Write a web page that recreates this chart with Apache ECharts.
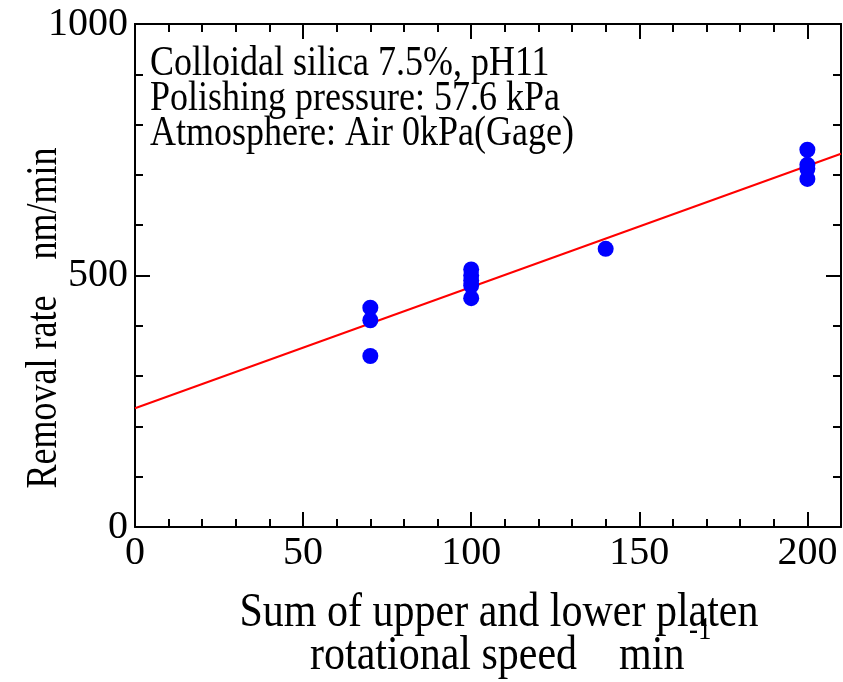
<!DOCTYPE html>
<html>
<head>
<meta charset="utf-8">
<script src="https://cdn.jsdelivr.net/npm/echarts@6/dist/echarts.min.js"></script>
<style>html,body{margin:0;padding:0;background:#fff}#c{width:843px;height:682px}</style>
</head>
<body>
<div id="c"></div>
<script>
// Data
const speed70 = [436, 411, 340];
const speed100 = [512, 500, 490, 480, 455];
const speed140 = [553];
const speed200 = [750, 720, 712, 692];
const speedValues = [70, 100, 140, 200];
const rateGroups = [speed70, speed100, speed140, speed200];
const trendX = [0, 210];
const trendY = [236, 742];
const xTickLabels = [0, 50, 100, 150, 200];
const yTickLabels = [0, 500, 1000];
const noteLines = ['Colloidal silica 7.5%, pH11', 'Polishing pressure: 57.6 kPa', 'Atmosphere: Air 0kPa(Gage)'];

const points = [];
speedValues.forEach((s, i) => rateGroups[i].forEach(v => points.push([s, v])));
const trend = trendX.map((x, i) => [x, trendY[i]]);

const FONT = 'Liberation Serif';
const black = '#000';
function xAx(pos, interval, len, labels) {
  return {
    type: 'value', position: pos, min: 0, max: 210, interval: interval,
    axisLine: { show: labels || pos === 'top', onZero: false, lineStyle: { color: black, width: 2 } },
    axisTick: { show: true, inside: true, length: len, lineStyle: { color: black, width: 2 } },
    axisLabel: labels ? {
      show: true, color: black, fontFamily: FONT, fontSize: 40, margin: 6, showMaxLabel: false,
      formatter: v => xTickLabels.includes(v) ? String(v) : ''
    } : { show: false },
    splitLine: { show: false }
  };
}
function yAx(pos, labels) {
  return {
    type: 'value', position: pos, min: 0, max: 1000, interval: 500,
    axisLine: { show: true, onZero: false, lineStyle: { color: black, width: 2 } },
    axisTick: { show: true, inside: true, length: 15, lineStyle: { color: black, width: 2 } },
    minorTick: { show: true, splitNumber: 5, length: 8, lineStyle: { color: black, width: 2 } },
    axisLabel: labels ? {
      show: true, color: black, fontFamily: FONT, fontSize: 40, margin: 7,
      formatter: v => yTickLabels.includes(v) ? String(v) : ''
    } : { show: false },
    splitLine: { show: false }, minorSplitLine: { show: false }
  };
}

const chart = echarts.init(document.getElementById('c'), null, { renderer: 'canvas' });
chart.setOption({
  backgroundColor: '#fff',
  animation: false,
  grid: { left: 135, right: 2, top: 24, bottom: 155, containLabel: false },
  xAxis: [xAx('bottom', 50, 15, true), xAx('bottom', 10, 8, false), xAx('top', 50, 15, false), xAx('top', 10, 8, false)],
  yAxis: [yAx('left', true), yAx('right', false)],
  series: [
    { type: 'line', data: trend, xAxisIndex: 0, yAxisIndex: 0, showSymbol: false, symbol: 'none',
      lineStyle: { color: '#FF0000', width: 2 }, z: 2, silent: true },
    { type: 'scatter', data: points, xAxisIndex: 0, yAxisIndex: 0, symbol: 'circle', symbolSize: 16,
      itemStyle: { color: '#0000FF', opacity: 1 }, z: 3 }
  ],
  graphic: [
    { type: 'text', x: 150, y: 47, scaleY: 1.15, z: 10,
      style: { text: noteLines.join('\n'), font: '36px "Liberation Serif"', fill: black, lineHeight: 30.4 } },
    { type: 'text', x: 44, y: 318, rotation: Math.PI / 2, scaleY: 1.25, z: 10,
      style: { text: 'Removal rate    nm/min', font: '36px "Liberation Serif"', fill: black, align: 'center', verticalAlign: 'middle' } },
    { type: 'text', x: 499, y: 613, scaleY: 1.18, z: 10,
      style: { text: 'Sum of upper and lower platen', font: '42px "Liberation Serif"', fill: black, align: 'center', verticalAlign: 'middle' } },
    { type: 'text', x: 310, y: 656, scaleY: 1.18, z: 10,
      style: { text: 'rotational speed    min', font: '42px "Liberation Serif"', fill: black, align: 'left', verticalAlign: 'middle' } },
    { type: 'text', x: 689, y: 631, scaleY: 1.18, z: 10,
      style: { text: '-1', font: '27px "Liberation Serif"', fill: black, align: 'left', verticalAlign: 'middle' } }
  ]
});
</script>
</body>
</html>
